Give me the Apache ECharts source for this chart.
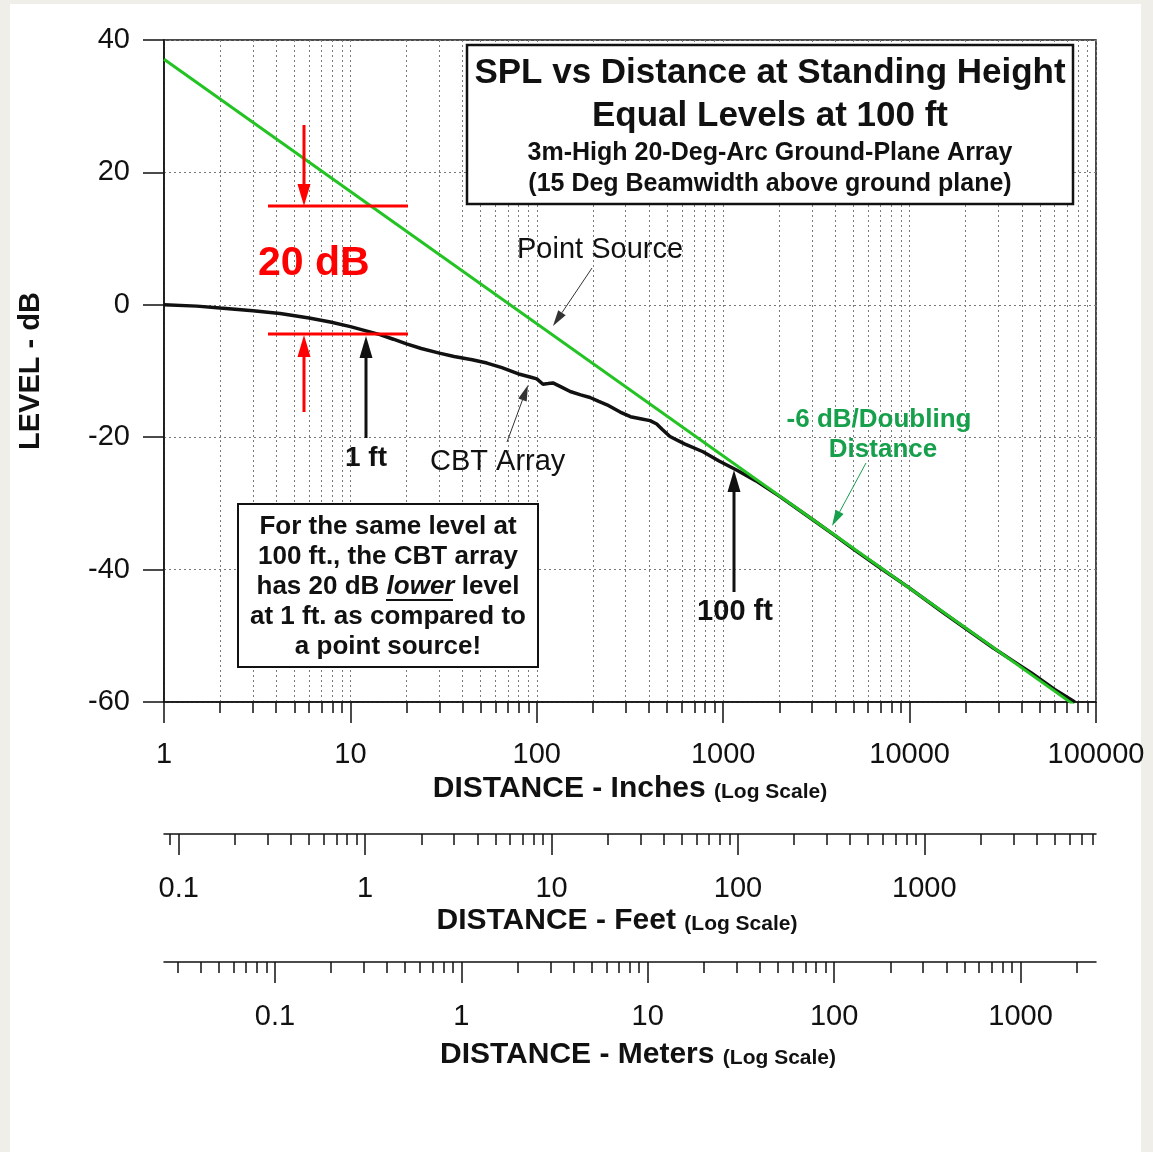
<!DOCTYPE html>
<html>
<head>
<meta charset="utf-8">
<script src="https://cdn.jsdelivr.net/npm/echarts@6/dist/echarts.min.js"></script>
<style>
  html, body { margin: 0; padding: 0; background: #efeee8; }
  #chart { width: 1153px; height: 1152px; }
</style>
</head>
<body>
<div id="chart"></div>
<script>
// CBT array response, distance in inches, level in dB
const cbtDist = [1, 1.5, 2, 3, 4.2, 6, 7.8, 10, 12, 14.4, 17, 20, 24, 30, 36, 45, 54, 65, 81, 92, 100, 108, 115, 122, 135, 151, 172, 193, 215, 238, 280, 318, 360, 405, 440, 470, 518, 620, 779, 950, 1186, 1500, 2000, 3000, 4000, 5000, 7000, 10000, 15000, 20000, 28000, 35000, 45000, 60000, 77000];
const cbtLevel = [0, -0.2, -0.5, -0.9, -1.3, -2.0, -2.6, -3.3, -3.9, -4.5, -5.2, -5.9, -6.6, -7.3, -7.8, -8.3, -8.8, -9.5, -10.5, -10.9, -11.2, -12.0, -11.9, -11.8, -12.4, -13.1, -13.6, -14.0, -14.6, -15.1, -16.2, -16.9, -17.2, -17.5, -18.0, -18.8, -19.9, -21.0, -22.2, -23.6, -25.0, -26.6, -28.9, -32.4, -34.9, -36.9, -39.8, -42.8, -46.4, -48.9, -51.8, -53.6, -55.6, -58.1, -60];
// point source (-6 dB per doubling), straight line on log axis
const psDist = [1, 76000];
const psLevel = [37.1, -60.4];

const yTicks = [-60, -40, -20, 0, 20, 40];
const inchLabels = [1, 10, 100, 1000, 10000, 100000];
const feetLabels = [0.1, 1, 10, 100, 1000];
const meterLabels = [0.1, 1, 10, 100, 1000];

const FONT = "'Liberation Sans', Arial, sans-serif";
const GREEN = "#22c322";
const TGREEN = "#17a04c";
const RED = "#ff0000";

// log decade tick positions (1..9 x 10^n) inside [lo, hi], in log10 units
function logTicks(lo, hi) {
  const out = [];
  for (let n = Math.floor(lo) - 1; n <= Math.ceil(hi); n++) {
    for (let k = 1; k <= 9; k++) {
      const v = Math.log10(k * Math.pow(10, n));
      if (v >= lo - 1e-9 && v <= hi + 1e-9) out.push(v);
    }
  }
  return out;
}
const fmt = (v) => String(+Math.pow(10, v).toPrecision(3));

const inLo = Math.log10(inchLabels[0]), inHi = Math.log10(inchLabels[inchLabels.length - 1]);
const ftLo = Math.log10(1 / 12), ftHi = Math.log10(100000 / 12);
const mLo = Math.log10(0.0254), mHi = Math.log10(2540);

const nameRich = {
  a: { fontFamily: FONT, fontSize: 30, fontWeight: "bold", color: "#111", lineHeight: 32 },
  b: { fontFamily: FONT, fontSize: 21, fontWeight: "bold", color: "#111", lineHeight: 32, verticalAlign: "bottom", padding: [0, 0, 2, 0] },
};

function majorAxis(grid, lo, hi, labels, name, gap, pad, margin) {
  return {
    type: "value", gridIndex: grid, position: "bottom", min: lo, max: hi,
    axisLine: { show: true, onZero: false, lineStyle: { color: "#111", width: 1.5 } },
    axisTick: { show: true, inside: false, length: 21, customValues: labels.map(Math.log10), lineStyle: { color: "#111", width: 1.5 } },
    axisLabel: { show: true, customValues: labels.map(Math.log10), formatter: fmt, margin: margin, fontFamily: FONT, fontSize: 29, color: "#111" },
    splitLine: { show: false },
    name: name, nameLocation: "middle", nameGap: gap,
    nameTextStyle: { rich: nameRich, padding: pad },
  };
}
function minorAxis(grid, lo, hi, gridLines) {
  return {
    type: "value", gridIndex: grid, position: "bottom", min: lo, max: hi,
    axisLine: { show: false, onZero: false },
    axisTick: { show: true, inside: false, length: 11, customValues: logTicks(lo, hi), lineStyle: { color: "#111", width: 1.5 } },
    axisLabel: { show: false },
    splitLine: { show: gridLines, lineStyle: { color: "#7a7a7a", width: 1, type: [2, 3] } },
  };
}

function arrow(x1, y1, x2, y2, color, w, hl, hw) {
  const a = Math.atan2(y2 - y1, x2 - x1);
  const bx = x2 - hl * Math.cos(a), by = y2 - hl * Math.sin(a);
  const px = -Math.sin(a) * hw / 2, py = Math.cos(a) * hw / 2;
  return [
    { type: "line", z: 100, shape: { x1: x1, y1: y1, x2: bx, y2: by }, style: { stroke: color, lineWidth: w } },
    { type: "polygon", z: 100, shape: { points: [[x2, y2], [bx + px, by + py], [bx - px, by - py]] }, style: { fill: color } },
  ];
}
function txt(x, y, s, size, opts) {
  opts = opts || {};
  return {
    type: "text", z: 101, x: x, y: y,
    style: {
      text: s, font: (opts.weight || "bold") + " " + size + "px " + FONT,
      fill: opts.color || "#111", align: opts.align || "center", verticalAlign: "middle",
      rich: opts.rich,
    },
  };
}

const boxRich = {
  n: { font: "bold 26px " + FONT, fill: "#111" },
  i: { font: "italic bold 26px " + FONT, fill: "#111" },
};

const graphics = [
  { type: "rect", z: -10, shape: { x: 10, y: 4, width: 1131, height: 1148 }, style: { fill: "#fff" } },
  // title box
  { type: "rect", z: 100, shape: { x: 467, y: 45, width: 606, height: 159 }, style: { fill: "#fff", stroke: "#111", lineWidth: 2.5 } },
  txt(770, 73, "SPL vs Distance at Standing Height", 35),
  txt(770, 116, "Equal Levels at 100 ft", 35),
  txt(770, 153, "3m-High 20-Deg-Arc Ground-Plane Array", 25),
  txt(770, 184, "(15 Deg Beamwidth above ground plane)", 25),
  // note box
  { type: "rect", z: 100, shape: { x: 238, y: 504, width: 300, height: 163 }, style: { fill: "#fff", stroke: "#111", lineWidth: 2 } },
  txt(388, 527, "For the same level at", 26),
  txt(388, 557, "100 ft., the CBT array", 26),
  txt(388, 587, "{n|has 20 dB }{i|lower}{n| level}", 26, { rich: boxRich }),
  { type: "line", z: 101, shape: { x1: 386, y1: 600, x2: 453, y2: 600 }, style: { stroke: "#111", lineWidth: 2 } },
  txt(388, 617, "at 1 ft. as compared to", 26),
  txt(388, 647, "a point source!", 26),
  // labels
  txt(517, 250, "Point Source", 29, { weight: "normal", align: "left" }),
  txt(430, 462, "CBT Array", 29, { weight: "normal", align: "left" }),
  txt(258, 264, "20 dB", 41, { color: RED, align: "left" }),
  txt(366, 458, "1 ft", 28),
  txt(735, 612, "100 ft", 29),
  txt(879, 420, "-6 dB/Doubling", 26, { color: TGREEN }),
  txt(883, 450, "Distance", 26, { color: TGREEN }),
  // red markers
  { type: "line", z: 100, shape: { x1: 268, y1: 206, x2: 408, y2: 206 }, style: { stroke: RED, lineWidth: 3 } },
  { type: "line", z: 100, shape: { x1: 268, y1: 334, x2: 408, y2: 334 }, style: { stroke: RED, lineWidth: 3 } },
]
  .concat(arrow(304, 125, 304, 206, RED, 3, 22, 13))
  .concat(arrow(304, 412, 304, 335, RED, 3, 22, 13))
  .concat(arrow(366, 438, 366, 336, "#111", 3, 22, 13))
  .concat(arrow(734, 592, 734, 470, "#111", 3, 22, 13))
  .concat(arrow(592, 268, 553, 326, "#333", 1, 16, 9))
  .concat(arrow(507, 442, 528, 385, "#333", 1, 16, 9))
  .concat(arrow(866, 463, 832, 526, TGREEN, 1, 16, 9));

const chart = echarts.init(document.getElementById("chart"), null, { renderer: "canvas" });
chart.setOption({
  animation: false,
  backgroundColor: "#efeee8",
  grid: [
    { left: 164, right: 57, top: 40, bottom: 450, show: true, borderColor: "#111", borderWidth: 1.5, backgroundColor: "transparent" },
    { left: 164, right: 57, top: 833, height: 1 },
    { left: 164, right: 57, top: 961, height: 1 },
  ],
  xAxis: [
    majorAxis(0, inLo, inHi, inchLabels, "{a|DISTANCE - Inches }{b|(Log Scale)}", 70, [0, 0, 0, 0], 38),
    minorAxis(0, inLo, inHi, true),
    majorAxis(1, ftLo, ftHi, feetLabels, "{a|DISTANCE - Feet }{b|(Log Scale)}", 71, [0, 26, 0, 0], 40),
    minorAxis(1, ftLo, ftHi, false),
    majorAxis(2, mLo, mHi, meterLabels, "{a|DISTANCE - Meters }{b|(Log Scale)}", 77, [0, 0, 0, 16], 40),
    minorAxis(2, mLo, mHi, false),
  ],
  yAxis: [
    {
      type: "value", gridIndex: 0, min: yTicks[0], max: yTicks[yTicks.length - 1], interval: 20,
      axisLine: { show: true, lineStyle: { color: "#111", width: 1.5 } },
      axisTick: { show: true, inside: false, length: 21, lineStyle: { color: "#111", width: 1.5 } },
      axisLabel: { margin: 34, fontFamily: FONT, fontSize: 29, color: "#111" },
      splitLine: { show: true, lineStyle: { color: "#7a7a7a", width: 1, type: [2, 3] } },
      name: "LEVEL - dB", nameLocation: "middle", nameGap: 119, nameRotate: 90,
      nameTextStyle: { fontFamily: FONT, fontSize: 29, fontWeight: "bold", color: "#111" },
    },
    { type: "value", gridIndex: 1, show: false },
    { type: "value", gridIndex: 2, show: false },
  ],
  series: [
    {
      name: "CBT Array", type: "line", xAxisIndex: 0, yAxisIndex: 0, showSymbol: false, z: 3,
      data: cbtDist.map((d, i) => [Math.log10(d), cbtLevel[i]]),
      lineStyle: { color: "#111", width: 3.5 },
    },
    {
      name: "Point Source", type: "line", xAxisIndex: 0, yAxisIndex: 0, showSymbol: false, z: 4,
      data: psDist.map((d, i) => [Math.log10(d), psLevel[i]]),
      lineStyle: { color: GREEN, width: 3 },
    },
  ],
  graphic: graphics,
});
</script>
</body>
</html>
